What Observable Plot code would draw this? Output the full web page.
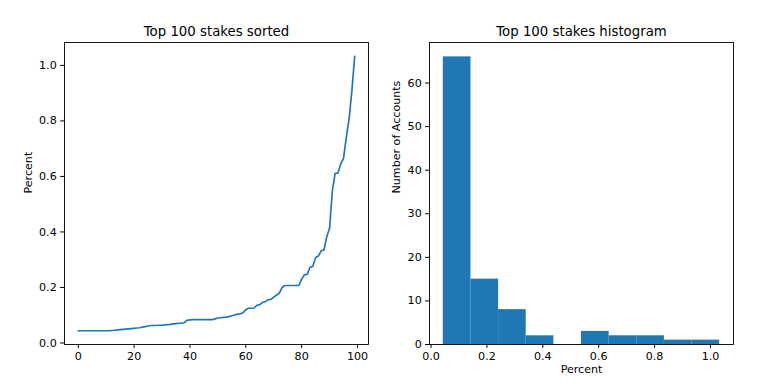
<!DOCTYPE html>
<html>
<head>
<meta charset="utf-8">
<script src="https://cdn.jsdelivr.net/npm/d3@7"></script>
<script src="https://cdn.jsdelivr.net/npm/@observablehq/plot@0.6"></script>
<style>
  html, body { margin: 0; padding: 0; background: #fff; }
  #wrap { position: relative; width: 768px; height: 385px; font-family: "DejaVu Sans", sans-serif; }
  #wrap svg { position: absolute; top: 0; font-family: "DejaVu Sans", sans-serif; }
</style>
</head>
<body>
<div id="wrap"></div>
<script>
// Top 100 stakes (percent), sorted ascending
const stakes = [
  0.044, 0.044, 0.044, 0.044, 0.044, 0.044, 0.044, 0.044, 0.044, 0.044,
  0.044, 0.044, 0.045, 0.046, 0.047, 0.048, 0.049, 0.050, 0.051, 0.052,
  0.053, 0.054, 0.055, 0.057, 0.059, 0.061, 0.063, 0.063, 0.063, 0.064,
  0.064, 0.065, 0.066, 0.067, 0.069, 0.070, 0.071, 0.071, 0.073, 0.082,
  0.083, 0.084, 0.084, 0.084, 0.084, 0.084, 0.084, 0.084, 0.084, 0.087,
  0.090, 0.091, 0.092, 0.093, 0.095, 0.098, 0.101, 0.104, 0.105, 0.109,
  0.120, 0.125, 0.125, 0.126, 0.136, 0.138, 0.146, 0.149, 0.156, 0.157,
  0.165, 0.172, 0.180, 0.200, 0.207, 0.207, 0.207, 0.207, 0.207, 0.207,
  0.230, 0.246, 0.247, 0.273, 0.276, 0.308, 0.313, 0.332, 0.335, 0.383,
  0.413, 0.549, 0.611, 0.612, 0.645, 0.665, 0.741, 0.807, 0.909, 1.033
];
const titles = ["Top 100 stakes sorted", "Top 100 stakes histogram"];
const yLabelLeft = "Percent";
const yLabelRight = "Number of Accounts";
const xLabelRight = "Percent";
const indexTicks = [0, 20, 40, 60, 80, 100];
const percentTicks = [0.0, 0.2, 0.4, 0.6, 0.8, 1.0];
const countTicks = [0, 10, 20, 30, 40, 50, 60];
const nBins = 10;

const blue = "#1f77b4";
const font = "DejaVu Sans, sans-serif";
const tickFs = 11.1;
const titleFs = 13.3;
const tick = 3.9;

// histogram bins: 10 equal bins between min and max
const [lo, hi] = d3.extent(stakes);
const step = (hi - lo) / nBins;
const interior = d3.range(1, nBins).map(k => lo + k * step);
const bins = d3.bin().domain([lo, hi]).thresholds(interior)(stakes);

const pad = (a, b) => [a - 0.05 * (b - a), b + 0.05 * (b - a)];
const idxDomain = pad(0, stakes.length - 1);
const pctDomain = pad(lo, hi);
const maxCount = d3.max(bins, b => b.length);

const common = {
  width: 384,
  height: 385,
  marginTop: 42,
  marginBottom: 41,
  style: { fontFamily: font, fontSize: tickFs + "px", color: "black", background: "white", overflow: "visible" }
};

const left = Plot.plot({
  ...common,
  marginLeft: 64,
  marginRight: 16,
  x: { domain: idxDomain },
  y: { domain: pctDomain },
  marks: [
    Plot.line(stakes, { x: (d, i) => i, y: d => d, stroke: blue, strokeWidth: 1.67 }),
    Plot.axisX({ ticks: indexTicks, tickSize: tick, tickPadding: tick, label: null, tickFormat: d3.format("d"), fontSize: tickFs }),
    Plot.axisY({ ticks: percentTicks, tickSize: tick, tickPadding: tick, label: null, tickFormat: d3.format(".1f"), fontSize: tickFs }),
    Plot.frame({ stroke: "black", strokeWidth: 0.9 }),
    Plot.text([titles[0]], { frameAnchor: "top", dy: -6.7, lineAnchor: "bottom", text: d => d, fontSize: titleFs }),
    Plot.text([yLabelLeft], { frameAnchor: "left", dx: -36, rotate: -90, text: d => d, fontSize: tickFs })
  ]
});

const right = Plot.plot({
  ...common,
  marginLeft: 45,
  marginRight: 35,
  x: { domain: pctDomain },
  y: { domain: [0, maxCount * 1.05] },
  marks: [
    Plot.rectY(bins, { x1: "x0", x2: "x1", y: b => b.length, fill: blue, inset: 0 }),
    Plot.axisX({ ticks: percentTicks, tickSize: tick, tickPadding: tick, label: null, tickFormat: d3.format(".1f"), fontSize: tickFs }),
    Plot.axisY({ ticks: countTicks, tickSize: tick, tickPadding: tick, label: null, tickFormat: d3.format("d"), fontSize: tickFs }),
    Plot.frame({ stroke: "black", strokeWidth: 0.9 }),
    Plot.text([titles[1]], { frameAnchor: "top", dy: -6.7, lineAnchor: "bottom", text: d => d, fontSize: titleFs }),
    Plot.text([yLabelRight], { frameAnchor: "left", dx: -33, rotate: -90, text: d => d, fontSize: tickFs }),
    Plot.text([xLabelRight], { frameAnchor: "bottom", dy: 28.5, text: d => d, fontSize: tickFs })
  ]
});

left.style.left = "0px";
right.style.left = "384px";
const wrap = document.getElementById("wrap");
wrap.appendChild(left);
wrap.appendChild(right);
</script>
</body>
</html>
